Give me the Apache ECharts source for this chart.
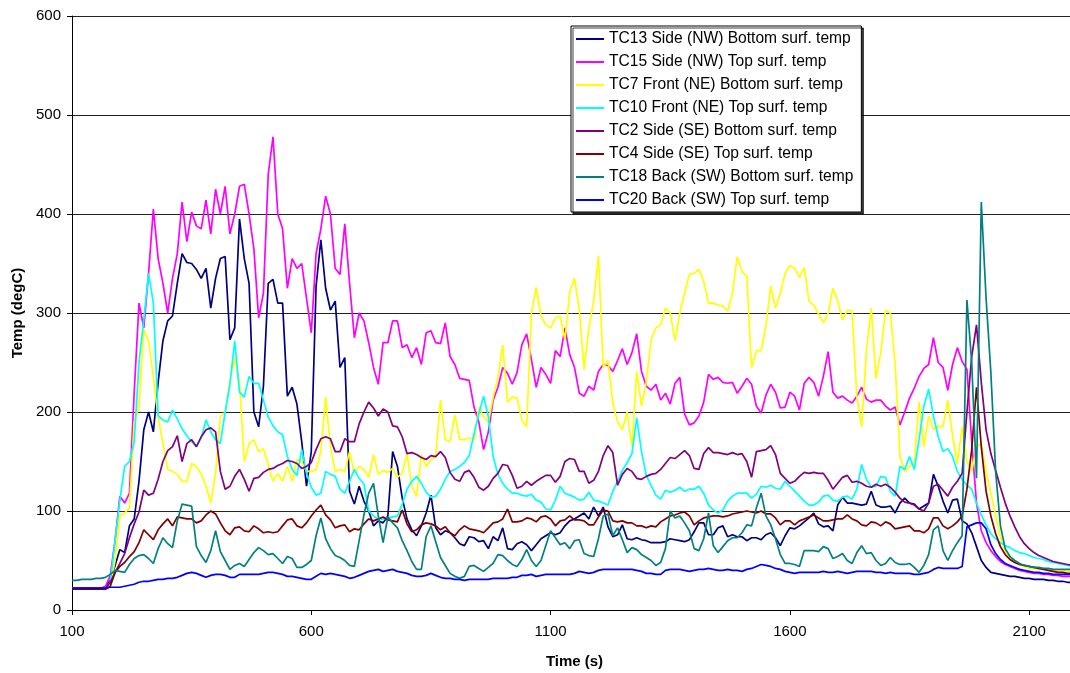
<!DOCTYPE html>
<html>
<head>
<meta charset="utf-8">
<title>Surface temperatures</title>
<script src="https://cdn.jsdelivr.net/npm/echarts@6/dist/echarts.min.js"></script>
<style>
  html, body { margin: 0; padding: 0; background: #fff; }
  #chart { width: 1070px; height: 673px; }
</style>
</head>
<body>
<div id="chart"></div>
<script>
// Sampling grid: readings every 10 s starting at t = 100 s
const T_START = 100;
const T_STEP = 10;

const seriesNames = [
  'TC13 Side (NW) Bottom surf. temp',
  'TC15 Side (NW) Top surf. temp',
  'TC7 Front (NE) Bottom surf. temp',
  'TC10 Front (NE) Top surf. temp',
  'TC2 Side (SE) Bottom surf. temp',
  'TC4 Side (SE) Top surf. temp',
  'TC18 Back (SW) Bottom surf. temp',
  'TC20 Back (SW) Top surf. temp'
];

const seriesColors = ['#000080', '#FF00FF', '#FFFF00', '#00FFFF', '#800080', '#800000', '#008080', '#0000FF'];

// Temperatures (degC), one row per 100 s
const tc13 = [
  22,22,22,22,22,22,22,23,30,45,
  61,58,85,92,130,182,200,180,230,272,
  292,297,330,360,351,350,344,335,345,305,
  335,355,357,273,285,395,355,330,200,185,
  226,330,334,310,310,216,225,208,170,125,
  160,327,374,325,303,312,245,255,120,107,
  125,110,100,85,90,88,95,160,145,113,
  92,81,75,85,98,116,83,76,80,78,
  73,67,65,74,73,69,70,62,74,70,
  83,62,61,67,69,66,60,66,72,75,
  78,76,78,85,90,92,95,98,92,104,
  95,104,84,74,76,86,72,71,73,71,
  70,68,68,68,69,72,71,70,69,71,
  79,88,88,76,76,83,85,74,76,74,
  74,70,73,73,71,76,78,73,65,75,
  83,82,85,89,93,98,87,84,85,80,
  106,114,108,108,107,106,107,120,106,104,
  104,105,98,108,113,108,107,102,105,108,
  137,125,110,98,111,112,90,87,78,64,
  50,43,38,37,36,35,34,34,33,32,
  32,31,31,31,30,30,29,29,28,28
];

const tc15 = [
  22,22,22,22,22,22,22,24,35,70,
  115,108,118,220,310,285,340,405,355,330,
  300,335,360,412,372,402,388,385,414,380,
  425,400,428,380,400,428,430,400,365,295,
  320,440,478,400,385,325,355,345,350,315,
  280,360,385,418,400,345,339,390,330,275,
  300,292,270,245,228,270,270,292,292,265,
  268,255,265,248,280,282,270,269,290,256,
  248,234,233,232,205,190,162,180,212,225,
  245,239,228,240,268,279,253,225,245,238,
  229,262,256,285,258,245,219,216,226,222,
  241,248,247,241,252,264,248,260,279,241,
  226,222,228,212,219,208,229,235,198,187,
  189,196,210,238,233,235,230,229,230,219,
  226,234,228,206,199,217,228,220,204,205,
  220,216,202,229,235,230,216,236,261,220,
  214,216,212,209,216,225,213,210,212,212,
  206,202,205,187,200,214,224,236,244,248,
  275,250,245,222,248,265,251,243,170,108,
  80,68,60,54,49,46,44,42,40,39,
  38,37,37,36,36,35,35,34,34,34
];

const tc7 = [
  22,22,22,22,22,22,22,22,25,50,
  95,98,103,190,205,283,272,235,195,168,
  142,140,137,130,130,148,145,137,125,108,
  138,195,200,232,255,230,150,168,172,160,
  163,147,130,138,130,145,130,152,150,140,
  140,142,160,215,165,140,142,140,160,138,
  145,142,134,157,137,141,139,143,134,138,
  158,125,115,157,145,152,155,212,172,170,
  197,172,172,174,172,205,195,190,215,235,
  268,210,215,214,192,185,300,326,297,288,
  285,295,297,273,322,335,303,243,285,312,
  358,245,252,209,190,182,200,165,241,206,
  230,273,285,288,305,300,272,300,320,339,
  340,344,332,310,310,308,307,302,320,357,
  342,337,245,262,262,287,327,305,320,340,
  348,345,336,346,312,308,299,290,300,325,
  312,293,303,302,215,185,262,305,234,260,
  303,300,249,155,140,145,150,210,165,196,
  182,186,185,212,176,148,185,150,140,165,
  168,140,118,95,74,60,53,50,46,44,
  42,42,41,41,40,40,39,39,39,39
];

const tc10 = [
  22,22,22,22,22,22,22,22,28,70,
  111,145,150,170,250,293,340,310,196,192,
  190,202,193,183,176,170,165,174,192,180,
  172,168,200,228,272,220,215,236,229,229,
  212,195,186,180,177,155,142,136,162,138,
  124,116,118,140,137,135,122,118,130,142,
  133,127,100,95,91,92,93,94,95,107,
  122,130,135,128,119,114,115,122,132,140,
  142,145,149,156,178,198,216,195,155,137,
  128,122,118,118,116,115,117,111,109,102,
  101,111,125,118,116,114,111,112,119,111,
  110,108,106,120,130,141,149,158,194,160,
  136,126,116,112,121,119,121,124,120,122,
  122,125,118,106,101,98,101,110,115,118,
  118,118,113,117,125,124,126,123,122,130,
  125,120,115,110,106,106,109,115,116,111,
  110,114,115,112,122,147,132,124,125,135,
  134,120,115,145,142,155,142,172,206,223,
  196,175,160,163,155,140,132,126,122,108,
  96,86,77,72,68,65,63,60,58,57,
  55,53,52,51,49,48,47,46,45,44
];

const tc2 = [
  22,22,22,22,22,22,22,22,28,38,
  47,57,73,87,99,121,116,118,132,150,
  161,165,176,150,168,172,165,175,182,184,
  180,140,122,125,135,142,132,120,133,134,
  139,142,143,146,148,151,150,148,143,145,
  149,162,173,175,173,160,160,173,170,170,
  188,200,210,204,196,203,200,186,185,175,
  158,159,157,154,152,156,155,160,154,139,
  132,130,139,141,134,124,121,125,133,138,
  147,146,136,123,125,130,126,130,133,136,
  136,129,135,150,153,152,140,140,128,131,
  140,156,166,159,126,137,143,140,133,132,
  135,137,138,142,148,154,153,157,161,156,
  143,142,158,164,159,159,158,157,159,157,
  158,150,134,160,161,162,166,157,138,133,
  128,130,135,139,138,139,138,138,131,122,
  128,134,136,129,130,128,125,124,127,125,
  127,124,119,113,109,108,106,102,100,108,
  125,127,121,115,124,130,138,200,256,288,
  230,182,158,141,124,108,95,84,74,67,
  62,58,55,53,51,49,48,47,46,45
];

const tc4 = [
  21,21,21,21,21,21,21,21,24,38,
  44,48,54,59,68,81,76,71,81,87,
  92,85,94,93,92,92,88,90,96,100,
  97,88,80,76,83,84,80,79,85,82,
  78,79,78,79,85,91,92,85,83,88,
  95,101,106,96,91,83,85,86,79,82,
  81,87,92,90,92,94,91,90,89,101,
  87,79,81,86,88,87,85,81,84,78,
  75,81,85,82,81,80,78,83,88,89,
  92,102,89,89,90,93,92,89,94,95,
  92,85,90,91,95,91,91,90,86,86,
  94,101,100,90,89,90,88,88,85,85,
  83,85,84,89,92,95,96,98,99,95,
  86,90,93,94,95,95,94,95,97,98,
  99,100,99,98,100,97,97,93,86,90,
  90,86,90,92,94,96,93,90,90,91,
  92,92,96,92,90,86,85,89,88,85,
  89,87,82,83,84,85,80,80,78,82,
  93,93,85,82,85,89,95,122,162,225,
  165,120,95,77,64,56,51,48,46,45,
  44,43,42,41,40,39,38,38,37,37
];

const tc18 = [
  30,30,31,31,31,32,32,33,36,40,
  39,38,46,52,55,56,52,47,62,73,
  67,63,90,107,106,105,64,55,48,60,
  80,59,50,41,45,47,44,51,58,63,
  60,56,57,52,47,54,52,43,43,46,
  50,75,93,72,62,55,53,50,45,44,
  70,96,118,128,95,68,94,88,83,70,
  60,49,41,41,74,85,69,53,45,37,
  34,32,34,44,45,42,39,43,47,56,
  55,50,46,44,51,61,50,44,50,65,
  80,73,66,68,62,70,71,57,55,54,
  72,95,97,75,83,71,58,63,61,56,
  53,50,45,48,62,100,93,95,88,80,
  62,60,72,98,65,58,64,70,73,73,
  78,86,85,103,118,95,86,72,56,47,
  47,46,44,60,60,60,59,64,62,52,
  54,57,50,47,58,65,57,58,50,45,
  47,53,48,46,46,47,43,38,45,56,
  81,85,60,50,60,68,75,313,250,133,
  412,315,240,140,85,62,54,50,47,45,
  44,43,43,42,42,41,41,41,41,41
];

const tc20 = [
  22,22,22,22,22,22,22,22,23,23,
  23,24,25,26,28,29,29,30,31,31,
  32,32,33,35,37,38,37,35,33,35,
  36,36,35,33,33,36,36,36,36,36,
  37,38,38,37,36,34,34,33,32,31,
  31,34,37,36,37,36,35,34,32,33,
  35,37,39,40,41,39,40,41,39,38,
  37,35,34,34,35,37,35,33,32,32,
  31,31,30,31,31,31,31,31,32,32,
  32,32,33,33,35,35,36,34,35,36,
  36,36,36,36,36,37,39,38,37,38,
  40,41,41,41,41,41,41,41,40,39,
  37,37,36,36,40,41,41,41,40,39,
  40,41,41,42,41,40,40,41,40,40,
  39,41,42,44,46,45,44,42,41,39,
  38,37,38,38,38,38,38,39,38,38,
  39,38,37,38,39,39,39,39,38,38,
  37,38,37,37,37,37,36,36,37,38,
  41,43,42,42,42,42,44,84,86,88,
  88,82,66,57,51,47,45,43,41,40,
  39,38,38,37,37,36,36,36,36,36
];

const seriesValues = [tc13, tc15, tc7, tc10, tc2, tc4, tc18, tc20];

// Axis ranges and tick spacing
const xMin = 100, xMax = 2200, xInterval = 500;
const yMin = 0, yMax = 600, yInterval = 100;

const FONT = '"Liberation Sans", Arial, Helvetica, sans-serif';

function toPairs(values) {
  return values.map((v, i) => [T_START + i * T_STEP, v]);
}

const chart = echarts.init(document.getElementById('chart'), null, { renderer: 'canvas' });

chart.setOption({
  animation: false,
  backgroundColor: '#ffffff',
  textStyle: { fontFamily: FONT },
  // plot area runs slightly past the right edge of the canvas
  grid: { left: 72, top: 16, width: 1005, height: 594, outerBoundsMode: 'none', containLabel: false },
  legend: {
    orient: 'vertical',
    left: 571,
    top: 26,
    width: 300,
    padding: [5, 8, 4, 5],
    itemGap: 7,
    itemWidth: 28,
    itemHeight: 2,
    icon: 'rect',
    backgroundColor: '#ffffff',
    borderColor: '#000000',
    borderWidth: 1,
    borderRadius: 0,
    shadowColor: 'rgba(0,0,0,0.75)',
    shadowOffsetX: 2,
    shadowOffsetY: 2,
    shadowBlur: 0,
    textStyle: { fontFamily: FONT, fontSize: 15.6, color: '#000', lineHeight: 16 },
    data: seriesNames
  },
  xAxis: {
    type: 'value',
    min: xMin,
    max: xMax,
    interval: xInterval,
    name: 'Time (s)',
    nameLocation: 'middle',
    nameGap: 44,
    nameTextStyle: { fontFamily: FONT, fontSize: 15, fontWeight: 'bold', color: '#000' },
    axisLine: { show: true, lineStyle: { color: '#000', width: 1 } },
    axisTick: { show: true, inside: false, length: 5, lineStyle: { color: '#000' } },
    axisLabel: {
      fontFamily: FONT, fontSize: 15, color: '#000', margin: 14, showMaxLabel: false,
      formatter: (v) => String(v)
    },
    splitLine: { show: false }
  },
  yAxis: {
    type: 'value',
    min: yMin,
    max: yMax,
    interval: yInterval,
    name: 'Temp (degC)',
    nameLocation: 'middle',
    nameGap: 43,
    nameRotate: 90,
    nameTextStyle: { fontFamily: FONT, fontSize: 15, fontWeight: 'bold', color: '#000' },
    axisLine: { show: true, lineStyle: { color: '#000', width: 1 } },
    axisTick: { show: true, inside: false, length: 5, lineStyle: { color: '#000' } },
    axisLabel: { fontFamily: FONT, fontSize: 15, color: '#000', margin: 11, formatter: (v) => String(v) },
    splitLine: { show: true, lineStyle: { color: '#222', width: 1 } }
  },
  series: seriesNames.map((name, k) => ({
    name: name,
    type: 'line',
    data: toPairs(seriesValues[k]),
    showSymbol: false,
    symbol: 'none',
    smooth: false,
    clip: true,
    color: seriesColors[k],
    lineStyle: { color: seriesColors[k], width: 1.7 },
    emphasis: { disabled: true }
  }))
});
</script>
</body>
</html>
